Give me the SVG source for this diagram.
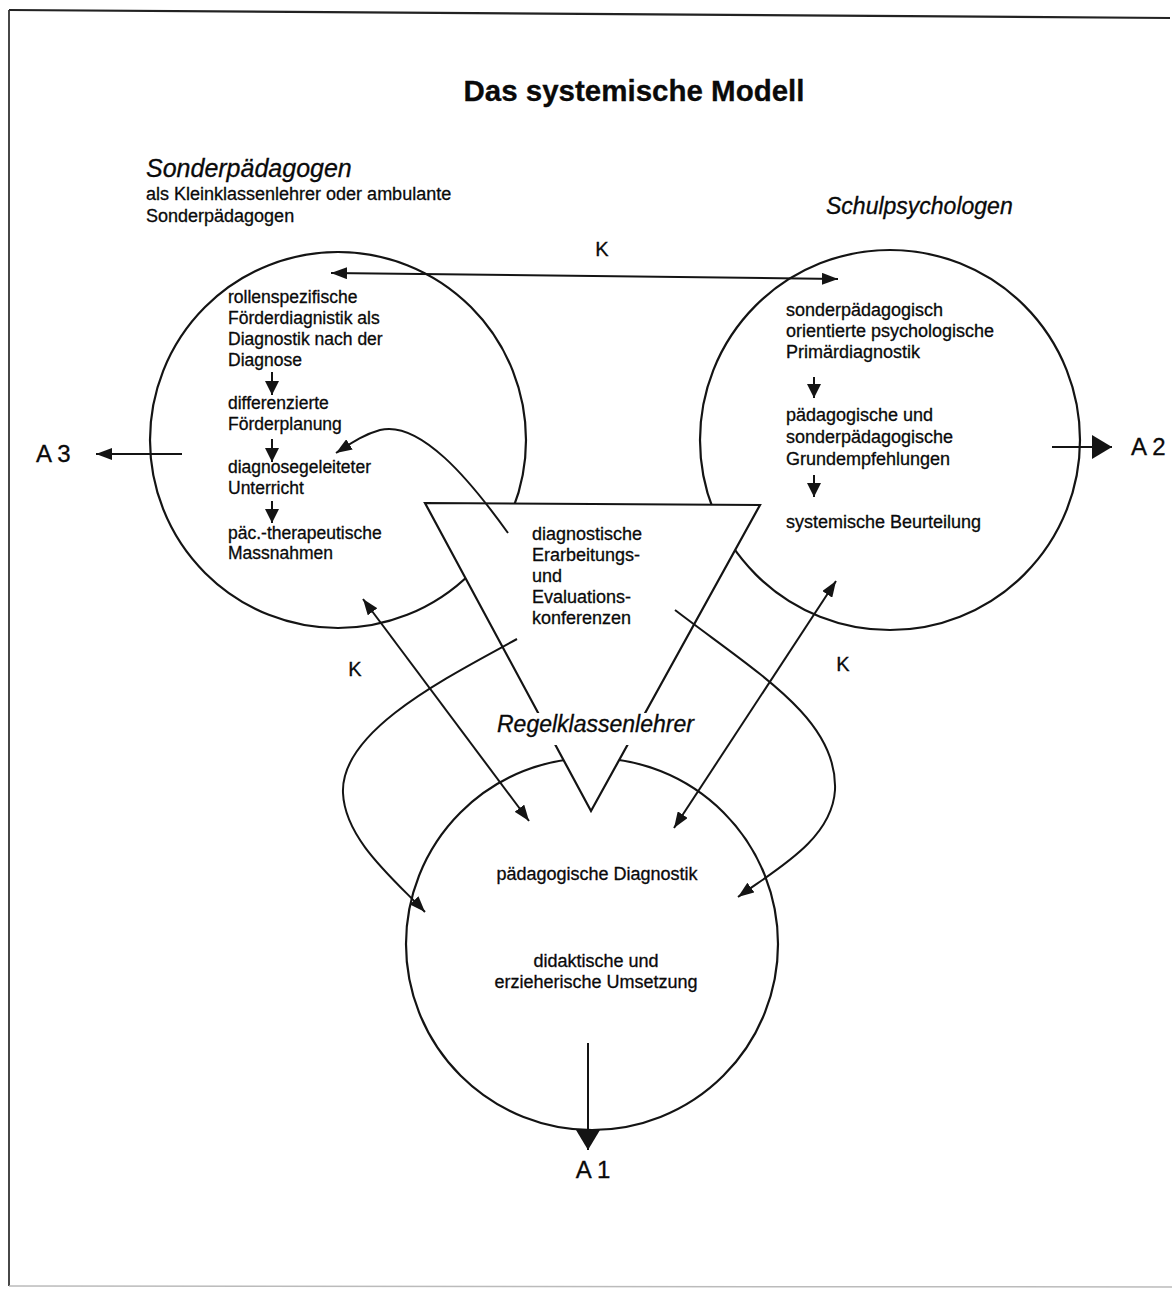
<svg xmlns="http://www.w3.org/2000/svg" width="1172" height="1289" viewBox="0 0 1172 1289">
<style>
.t{font-family:"Liberation Sans",Arial,Helvetica,sans-serif;fill:#0a0a0a;stroke:#0a0a0a;stroke-width:0.3}
.b{font-size:17.5px}
.m{font-size:18px}
.i{font-style:italic}
.ln{stroke:#141414;stroke-width:2;fill:none}
.c{stroke:#141414;stroke-width:2.2;fill:none}
</style>
<defs>
<marker id="ah" viewBox="0 0 16 12" refX="16" refY="6" markerWidth="16" markerHeight="12" markerUnits="userSpaceOnUse" orient="auto-start-reverse">
<path d="M0,0 L16,6 L0,12 z" fill="#141414"/>
</marker>
<marker id="ahs" viewBox="0 0 14 14" refX="14" refY="7" markerWidth="14" markerHeight="14" markerUnits="userSpaceOnUse" orient="auto">
<path d="M0,0 L14,7 L0,14 z" fill="#141414"/>
</marker>
<marker id="ahb" viewBox="0 0 20 24" refX="20" refY="12" markerWidth="20" markerHeight="24" markerUnits="userSpaceOnUse" orient="auto">
<path d="M0,0 L20,12 L0,24 z" fill="#141414"/>
</marker>
</defs>
<rect x="0" y="0" width="1172" height="1289" fill="#ffffff"/>
<g id="frame">
<path d="M9 10 L1170 18" stroke="#222" stroke-width="2.2" fill="none"/>
<path d="M9 10 L9 1286" stroke="#333" stroke-width="1.8" fill="none"/>
<path d="M9 1286 L1172 1287" stroke="#bbb" stroke-width="1.5" fill="none"/>
</g>
<g id="title">
<text class="t" x="634" y="101" font-size="29.5" font-weight="bold" text-anchor="middle">Das systemische Modell</text>
</g>
<g id="sonderpaedagogen">
<circle class="c" cx="338" cy="440" r="188"/>
<text class="t i" x="146" y="177" font-size="25">Sonderpädagogen</text>
<text class="t m" x="146" y="200">als Kleinklassenlehrer oder ambulante</text>
<text class="t m" x="146" y="222">Sonderpädagogen</text>
<text class="t b" x="228" y="303">rollenspezifische</text>
<text class="t b" x="228" y="324">Förderdiagnistik als</text>
<text class="t b" x="228" y="345">Diagnostik nach der</text>
<text class="t b" x="228" y="366">Diagnose</text>
<text class="t b" x="228" y="409">differenzierte</text>
<text class="t b" x="228" y="430">Förderplanung</text>
<text class="t b" x="228" y="473">diagnosegeleiteter</text>
<text class="t b" x="228" y="494">Unterricht</text>
<text class="t b" x="228" y="539">päc.-therapeutische</text>
<text class="t b" x="228" y="559">Massnahmen</text>
<path class="ln" d="M272 372 L272 395" marker-end="url(#ahs)"/>
<path class="ln" d="M272 439 L272 462" marker-end="url(#ahs)"/>
<path class="ln" d="M272 501 L272 523" marker-end="url(#ahs)"/>
</g>
<g id="schulpsychologen">
<circle class="c" cx="890" cy="440" r="190"/>
<text class="t i" x="826" y="214" font-size="23">Schulpsychologen</text>
<text class="t m" x="786" y="316">sonderpädagogisch</text>
<text class="t m" x="786" y="337">orientierte psychologische</text>
<text class="t m" x="786" y="358">Primärdiagnostik</text>
<text class="t m" x="786" y="421">pädagogische und</text>
<text class="t m" x="786" y="443">sonderpädagogische</text>
<text class="t m" x="786" y="465">Grundempfehlungen</text>
<text class="t m" x="786" y="528">systemische Beurteilung</text>
<path class="ln" d="M814 377 L814 398" marker-end="url(#ahs)"/>
<path class="ln" d="M814 475 L814 497" marker-end="url(#ahs)"/>
</g>
<g id="regelklassenlehrer">
<circle class="c" cx="592" cy="944" r="186"/>
<text class="t m" x="597" y="880" text-anchor="middle">pädagogische Diagnostik</text>
<text class="t m" x="596" y="967" text-anchor="middle">didaktische und</text>
<text class="t m" x="596" y="988" text-anchor="middle">erzieherische Umsetzung</text>
</g>
<g id="konferenzen">
<path d="M425 503 L760 505 L591 811 Z" fill="#ffffff" stroke="#141414" stroke-width="2.2" stroke-linejoin="miter"/>
<rect x="490" y="713" width="218" height="32" fill="#ffffff"/>
<text class="t i" x="497" y="732" font-size="23">Regelklassenlehrer</text>
<text class="t m" x="532" y="540">diagnostische</text>
<text class="t m" x="532" y="561">Erarbeitungs-</text>
<text class="t m" x="532" y="582">und</text>
<text class="t m" x="532" y="603">Evaluations-</text>
<text class="t m" x="532" y="624">konferenzen</text>
</g>
<g id="connectors">
<path class="ln" d="M331 273 L838 279" marker-start="url(#ah)" marker-end="url(#ah)"/>
<text class="t" x="602" y="256" font-size="20" text-anchor="middle">K</text>
<path class="ln" d="M363 599 L529 821" marker-start="url(#ah)" marker-end="url(#ah)"/>
<text class="t" x="355" y="676" font-size="20" text-anchor="middle">K</text>
<path class="ln" d="M836 581 L674 828" marker-start="url(#ah)" marker-end="url(#ah)"/>
<text class="t" x="843" y="671" font-size="20" text-anchor="middle">K</text>
<path class="ln" d="M508 533 C470 480 420 420 380 430 C362 435 350 444 336 453" marker-end="url(#ah)"/>
<path class="ln" d="M517 639 C450 676 340 730 343 793 C345 840 395 880 425 912" marker-end="url(#ah)"/>
<path class="ln" d="M675 610 C760 675 838 720 835 790 C832 840 775 870 738 897" marker-end="url(#ah)"/>
<path class="ln" d="M182 454 L96 454" marker-end="url(#ah)"/>
<text class="t" x="36" y="462" font-size="24">A 3</text>
<path class="ln" d="M1052 447 L1112 447" marker-end="url(#ahb)"/>
<text class="t" x="1131" y="455" font-size="24">A 2</text>
<path class="ln" d="M588 1043 L588 1150" marker-end="url(#ahb)"/>
<text class="t" x="593" y="1178" font-size="24" text-anchor="middle">A 1</text>
</g>
</svg>
